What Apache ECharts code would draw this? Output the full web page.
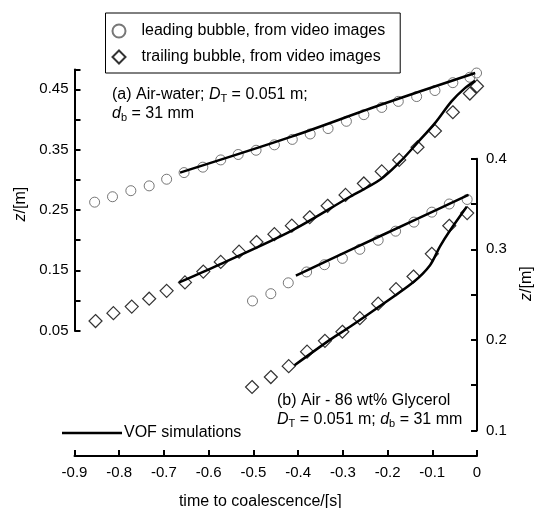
<!DOCTYPE html>
<html>
<head>
<meta charset="utf-8">
<script src="https://cdn.jsdelivr.net/npm/echarts@6/dist/echarts.min.js"></script>
<style>
  html, body { margin: 0; padding: 0; background: #fff; }
  #chart { width: 534px; height: 508px; }
</style>
</head>
<body>
<div id="chart"></div>
<script>
// (a) air-water, left axis
const leadA_t = [-0.855, -0.815, -0.774, -0.733, -0.694, -0.655, -0.613, -0.573, -0.534, -0.494, -0.453, -0.413, -0.373, -0.333, -0.292, -0.253, -0.213, -0.176, -0.135, -0.094, -0.054, -0.016, -0.001]
const leadA_z = [0.263, 0.272, 0.282, 0.290, 0.301, 0.312, 0.321, 0.333, 0.342, 0.349, 0.358, 0.367, 0.376, 0.385, 0.397, 0.408, 0.420, 0.430, 0.438, 0.448, 0.461, 0.470, 0.477]
const trailA_t = [-0.853, -0.813, -0.772, -0.733, -0.694, -0.653, -0.612, -0.573, -0.532, -0.493, -0.453, -0.414, -0.374, -0.334, -0.294, -0.253, -0.213, -0.174, -0.133, -0.094, -0.054, -0.016, 0]
const trailA_z = [0.066, 0.079, 0.090, 0.103, 0.116, 0.130, 0.148, 0.164, 0.181, 0.197, 0.210, 0.224, 0.238, 0.257, 0.275, 0.294, 0.314, 0.333, 0.354, 0.381, 0.412, 0.443, 0.455]
const vofLeadA_t = [-0.664, -0.413, -0.217, -0.004]
const vofLeadA_z = [0.312, 0.372, 0.424, 0.477]
const vofTrailA_t = [-0.666, -0.575, -0.414, -0.284, -0.217, -0.172, -0.135, -0.094, -0.057, -0.027, -0.004]
const vofTrailA_z = [0.130, 0.160, 0.216, 0.272, 0.300, 0.330, 0.360, 0.394, 0.430, 0.452, 0.464]

// (b) air - 86 wt% glycerol, right axis
const leadB_t = [-0.502, -0.461, -0.422, -0.381, -0.341, -0.301, -0.262, -0.221, -0.182, -0.141, -0.101, -0.062, -0.022]
const leadB_z = [0.243, 0.251, 0.263, 0.275, 0.283, 0.290, 0.300, 0.310, 0.320, 0.330, 0.341, 0.350, 0.355]
const trailB_t = [-0.503, -0.461, -0.421, -0.380, -0.340, -0.301, -0.262, -0.221, -0.181, -0.142, -0.101, -0.062, -0.022]
const trailB_z = [0.148, 0.159, 0.171, 0.187, 0.199, 0.209, 0.224, 0.240, 0.256, 0.270, 0.295, 0.326, 0.340]
const vofLeadB_t = [-0.405, -0.284, -0.141, -0.019]
const vofLeadB_z = [0.271, 0.299, 0.332, 0.360]
const vofTrailB_t = [-0.408, -0.329, -0.284, -0.224, -0.142, -0.105, -0.083, -0.060, -0.023]
const vofTrailB_z = [0.172, 0.200, 0.2145, 0.235, 0.264, 0.2825, 0.303, 0.321, 0.347]

const LEAD = 'leading bubble, from video images'
const TRAIL = 'trailing bubble, from video images'
const VOF = 'VOF simulations'

const font = 'Liberation Sans, Arial, Helvetica, sans-serif'

function pairs(t, z) {
  return t.map((v, i) => [v, z[i]])
}

function circles(name, t, z, idx) {
  return {
    name, type: 'scatter', xAxisIndex: idx, yAxisIndex: idx,
    symbol: 'circle', symbolSize: 10, z: 2,
    itemStyle: { color: 'rgba(255,255,255,0)', borderColor: '#555', borderWidth: 1 },
    data: pairs(t, z),
  }
}

function diamonds(name, t, z, idx) {
  return {
    name, type: 'scatter', xAxisIndex: idx, yAxisIndex: idx,
    symbol: 'diamond', symbolSize: 13, z: 2,
    itemStyle: { color: 'rgba(255,255,255,0)', borderColor: '#000', borderWidth: 1.2 },
    data: pairs(t, z),
  }
}

function vof(t, z, idx) {
  return {
    name: VOF, type: 'line', xAxisIndex: idx, yAxisIndex: idx,
    symbol: 'none', showSymbol: false, smooth: 0.3, z: 4,
    lineStyle: { color: '#000', width: 2.5 },
    itemStyle: { color: '#000' },
    data: pairs(t, z),
  }
}

const axisLine = { show: true, onZero: false, lineStyle: { color: '#000', width: 2 } }
const axisTick = { show: true, inside: true, length: 6, lineStyle: { color: '#000', width: 2 } }

const chart = echarts.init(document.getElementById('chart'), null, { renderer: 'canvas' })

chart.setOption({
  animation: false,
  backgroundColor: '#fff',
  textStyle: { fontFamily: font },
  grid: [
    { left: 74.5, right: 57, top: 69.4, bottom: 177.3, containLabel: false, outerBoundsMode: 'none' },
    { left: 74.5, right: 57, top: 158.7, bottom: 77.5, containLabel: false, outerBoundsMode: 'none' },
  ],
  xAxis: [
    { gridIndex: 0, type: 'value', min: -0.9, max: 0, show: false },
    {
      gridIndex: 1, type: 'value', min: -0.9, max: 0, interval: 0.1,
      position: 'bottom', offset: 25.5,
      axisLine, axisTick, splitLine: { show: false },
      axisLabel: {
        color: '#000', fontSize: 15, fontFamily: font, margin: 9,
        formatter: (v) => (Math.abs(v) < 1e-9 ? '0' : v.toFixed(1)),
      },
      name: 'time to coalescence/[s]', nameLocation: 'middle', nameGap: 38,
      nameTextStyle: { color: '#000', fontSize: 16, fontFamily: font, padding: [0, 31, 0, 0] },
    },
  ],
  yAxis: [
    {
      gridIndex: 0, type: 'value', position: 'left', min: 0.05, max: 0.483, interval: 0.05,
      axisLine, axisTick, splitLine: { show: false },
      axisLabel: {
        color: '#000', fontSize: 15, fontFamily: font, margin: 6,
        formatter: (v) => {
          const k = Math.round(v * 100)
          return Math.abs(v * 100 - k) < 1e-6 && k % 10 === 5 ? v.toFixed(2) : ''
        },
      },
      name: '{i|z}/[m]', nameLocation: 'middle', nameGap: 46, nameRotate: 90,
      nameTextStyle: {
        color: '#000', fontSize: 16, fontFamily: font, padding: [0, 8, 0, 0],
        rich: { i: { fontStyle: 'italic', fontSize: 16, fontFamily: font, color: '#000' } },
      },
    },
    {
      gridIndex: 1, type: 'value', position: 'right', min: 0.1, max: 0.4, interval: 0.05,
      axisLine, axisTick, splitLine: { show: false },
      axisLabel: {
        color: '#000', fontSize: 15, fontFamily: font, margin: 9,
        formatter: (v) => {
          const k = Math.round(v * 100)
          return Math.abs(v * 100 - k) < 1e-6 && k % 10 === 0 ? v.toFixed(1) : ''
        },
      },
      name: '{i|z}/[m]', nameLocation: 'middle', nameGap: 42, nameRotate: 90,
      nameTextStyle: {
        color: '#000', fontSize: 16, fontFamily: font, padding: [0, 0, 0, 22],
        rich: { i: { fontStyle: 'italic', fontSize: 16, fontFamily: font, color: '#000' } },
      },
    },
  ],
  legend: [
    {
      data: [LEAD, TRAIL], orient: 'vertical',
      left: 105.5, top: 13,
      padding: [9, 15, 7, 6],
      itemWidth: 13, itemHeight: 13, itemGap: 8,
      borderColor: '#000', borderWidth: 1, borderRadius: 0,
      selectedMode: false,
      textStyle: { color: '#000', fontSize: 16, fontFamily: font, lineHeight: 18, padding: [0, 0, 0, 11] },
    },
    {
      data: [VOF], left: 62, top: 425, padding: 0,
      icon: 'rect', itemWidth: 60, itemHeight: 2.5,
      selectedMode: false,
      textStyle: { color: '#000', fontSize: 16, fontFamily: font, padding: [0, 0, 0, -3] },
    },
  ],
  graphic: [
    {
      type: 'text', left: 112, top: 85,
      style: {
        text: '(a) Air-water; {i|D}{s|T} = 0.051 m;\n{i|d}{s|b} = 31 mm',
        fill: '#000', font: '16px ' + font, lineHeight: 19,
        rich: {
          i: { fontStyle: 'italic', fontSize: 16, fontFamily: font, fill: '#000', lineHeight: 19 },
          s: { fontSize: 11, fontFamily: font, fill: '#000', lineHeight: 8, verticalAlign: 'bottom' },
        },
      },
    },
    {
      type: 'text', left: 277, top: 391,
      style: {
        text: '(b) Air - 86 wt% Glycerol\n{i|D}{s|T} = 0.051 m; {i|d}{s|b} = 31 mm',
        fill: '#000', font: '16px ' + font, lineHeight: 19,
        rich: {
          i: { fontStyle: 'italic', fontSize: 16, fontFamily: font, fill: '#000', lineHeight: 19 },
          s: { fontSize: 11, fontFamily: font, fill: '#000', lineHeight: 8, verticalAlign: 'bottom' },
        },
      },
    },
  ],
  series: [
    circles(LEAD, leadA_t, leadA_z, 0),
    diamonds(TRAIL, trailA_t, trailA_z, 0),
    vof(vofLeadA_t, vofLeadA_z, 0),
    vof(vofTrailA_t, vofTrailA_z, 0),
    circles(LEAD, leadB_t, leadB_z, 1),
    diamonds(TRAIL, trailB_t, trailB_z, 1),
    vof(vofLeadB_t, vofLeadB_z, 1),
    vof(vofTrailB_t, vofTrailB_z, 1),
  ],
})
</script>
</body>
</html>
